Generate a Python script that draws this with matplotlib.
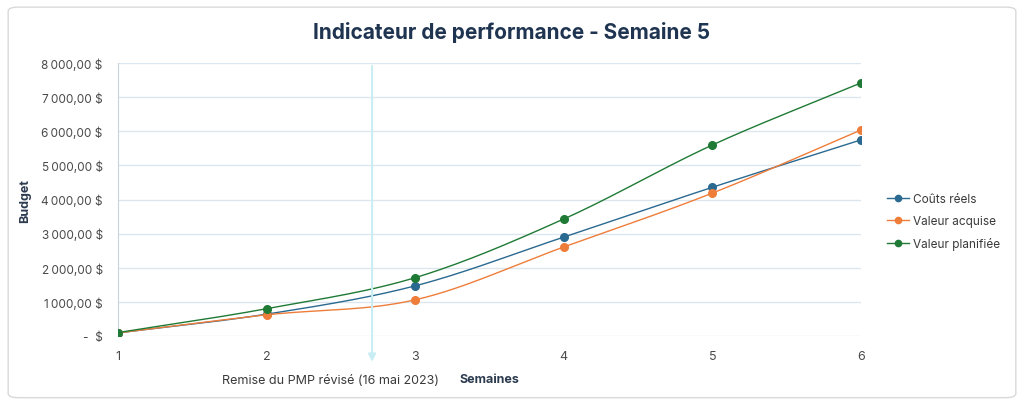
import numpy as np
import matplotlib.pyplot as plt
from matplotlib.patches import FancyBboxPatch

plt.rcParams['font.family'] = ['Inter', 'DejaVu Sans']

semaines = [1, 2, 3, 4, 5, 6]
couts_reels = [90, 640, 1470, 2900, 4360, 5750]
valeur_acquise = [90, 620, 1060, 2610, 4190, 6040]
valeur_planifiee = [100, 800, 1710, 3430, 5600, 7420]
yticks = [0, 1000, 2000, 3000, 4000, 5000, 6000, 7000, 8000]
remise_x = 2.71

series = [("Coûts réels", couts_reels, "#2A6990"),
          ("Valeur acquise", valeur_acquise, "#EE7D3A"),
          ("Valeur planifiée", valeur_planifiee, "#1F7A35")]


def smooth(x, y, n=30):
    # catmull-rom style curve through the points (like Excel smoothed lines)
    x = np.asarray(x, float)
    y = np.asarray(y, float)
    px = np.concatenate([[2 * x[0] - x[1]], x, [2 * x[-1] - x[-2]]])
    py = np.concatenate([[2 * y[0] - y[1]], y, [2 * y[-1] - y[-2]]])
    xs, ys = [], []
    t = np.linspace(0, 1, n)
    for i in range(1, len(px) - 2):
        for p, out in ((px, xs), (py, ys)):
            p0, p1, p2, p3 = p[i - 1], p[i], p[i + 1], p[i + 2]
            c1 = p1 + (p2 - p0) / 6
            c2 = p2 - (p3 - p1) / 6
            out.extend((1 - t) ** 3 * p1 + 3 * (1 - t) ** 2 * t * c1 + 3 * (1 - t) * t ** 2 * c2 + t ** 3 * p2)
    return np.array(xs), np.array(ys)


def fmt(v):
    if v == 0:
        return "-  $"
    return "{:,.2f} $".format(v).replace(",", "\u202f").replace(".", ",")


fig = plt.figure(figsize=(10.24, 4.06), dpi=100)
fig.patches.append(FancyBboxPatch((0.008, 0.018), 0.984, 0.962, boxstyle="round,pad=0,rounding_size=0.01",
                                  transform=fig.transFigure, facecolor="none", edgecolor="#D9D9D9", lw=1,
                                  zorder=-1))
ax = fig.add_axes([0.1152, 0.170, 0.7256, 0.672])

for name, vals, col in series:
    sx, sy = smooth(semaines, vals)
    ax.plot(sx, sy, color=col, lw=1.0, zorder=3)
    ax.plot(semaines, vals, 'o', color=col, ms=5.5, zorder=4)
    ax.plot([], [], '-o', color=col, lw=1.0, ms=4.5, label=name)

ax.set_xlim(1, 6)
ax.set_ylim(0, 8000)
ax.set_yticks(yticks)
ax.set_yticklabels([fmt(v) for v in yticks])
ax.set_xticks(semaines)
ax.grid(axis='y', color="#DCE6EE", lw=1)
ax.set_axisbelow(True)
for s in ['top', 'right', 'bottom']:
    ax.spines[s].set_visible(False)
ax.spines['left'].set_color("#C8D3DC")
ax.tick_params(length=0, labelsize=9, colors="#4A4A4A")
ax.tick_params(axis='y', labelsize=8.5, pad=11)
ax.tick_params(axis='x', pad=10)

ax.set_ylabel("Budget", fontsize=9, fontweight='bold', color="#2B3A4E")
ax.yaxis.set_label_coords(-0.117, 0.5)
ax.set_xlabel("Semaines", fontsize=9, fontweight='bold', color="#2B3A4E")
ax.xaxis.set_label_coords(0.5, -0.135)

ax.annotate("", xy=(remise_x, -0.105), xycoords=('data', 'axes fraction'),
            xytext=(remise_x, 1.0), textcoords=('data', 'axes fraction'),
            arrowprops=dict(arrowstyle='-|>', color="#C8EEF3", lw=1.5, mutation_scale=11),
            annotation_clip=False)
ax.text(remise_x - 0.28, -0.16, "Remise du PMP révisé (16 mai 2023)", transform=ax.get_xaxis_transform(),
        ha='center', va='center', fontsize=9, color="#3A3A3A")

fig.text(0.5, 0.92, "Indicateur de performance - Semaine 5", ha='center', va='center',
         fontsize=15, fontweight='bold', color="#1F3450")

ax.legend(loc='center left', bbox_to_anchor=(1.035, 0.418), frameon=False, fontsize=8.5,
          borderaxespad=0, borderpad=0, handlelength=1.9, labelspacing=0.85, handletextpad=0.3,
          labelcolor="#3A3A3A")

fig.savefig("out.png", dpi=100)
